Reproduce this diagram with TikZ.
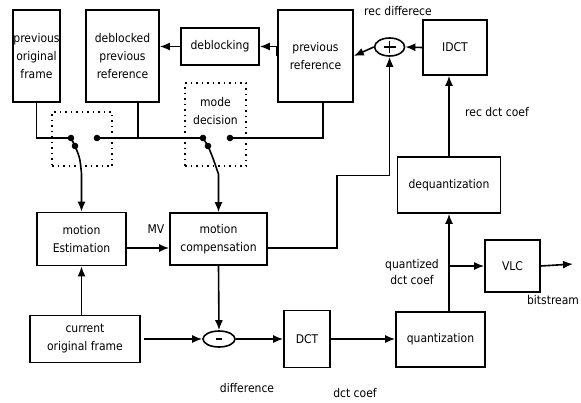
\documentclass[tikz,border=0pt]{standalone}
\usepackage{fontspec}
\setmainfont{DejaVu Sans Condensed}
\usetikzlibrary{arrows.meta,shapes.geometric}
\begin{document}
\begin{tikzpicture}[x=1pt,y=-1pt,
  font=\fontsize{12}{18}\selectfont,
  box/.style={draw,line width=1.6pt,align=center,inner sep=0pt},
  oval/.style={draw,ellipse,line width=1.6pt,inner sep=0pt},
  dbox/.style={draw,dash pattern=on 1.5pt off 4pt,line width=1.5pt,inner sep=0pt},
  arr/.style={line width=1.6pt,solid,-{Latex[length=10pt,width=8pt]}},
  ln/.style={line width=1.6pt,solid},
  lbl/.style={align=center,inner sep=0pt},
  dot/.style={fill=black}]
\useasboundingbox (0,0) rectangle (581,402);
% boxes
\node[box,minimum width=47pt,minimum height=92pt] (pof) at (36.5,56) {previous\\original\\frame};
\node[box,minimum width=73pt,minimum height=92pt] (dpr) at (122.5,56) {deblocked\\previous\\reference};
\node[box,minimum width=78pt,minimum height=37pt] (deb) at (220,46.5) {deblocking};
\node[box,minimum width=75pt,minimum height=92pt] (prf) at (315.5,56) {previous\\reference};
\node[oval,minimum width=30pt,minimum height=18pt] (plus) at (389.6,47) {};
\draw[ln] (plus.center) ++(-6,0) -- ++(12,0);
\draw[ln] (plus.center) ++(0,-6) -- ++(0,12);
\node[box,minimum width=64pt,minimum height=55pt] (idct) at (455,47.5) {IDCT};
\node[box,minimum width=103pt,minimum height=56pt] (deq) at (449,185) {dequantization};
\node[box,minimum width=55pt,minimum height=52pt] (vlc) at (512.5,266) {VLC};
\node[box,minimum width=89pt,minimum height=55pt] (quant) at (440.5,339.5) {quantization};
\node[box,minimum width=46pt,minimum height=57pt] (dct) at (307,339) {DCT};
\node[box,minimum width=89pt,minimum height=53pt] (me) at (81.5,239) {motion\\Estimation};
\node[box,minimum width=97pt,minimum height=52pt] (mc) at (218.5,239) {motion\\compensation};
\node[box,minimum width=110pt,minimum height=47pt] (cof) at (85,339) {current\\original frame};
\node[oval,minimum width=32pt,minimum height=16pt] (minus) at (219,339) {};
\draw[ln] (minus.center) ++(-3,0) -- ++(6,0);
% labels
\node[lbl] (l1) at (398,11) {rec differece};
\node[lbl] (l2) at (497,112) {rec dct coef};
\node[lbl] (l3) at (156,229) {MV};
\node[lbl,font=\fontsize{12}{16}\selectfont] (l4) at (412,272) {quantized\\dct coef};
\node[lbl] (l5) at (553,300) {bitstream};
\node[lbl] (l6) at (247,388) {difference};
\node[lbl] (l7) at (355,393) {dct coef};
% switch terminals
\coordinate (s1a) at (71,138);
\coordinate (s1b) at (97,138);
\coordinate (s1c) at (75,146);
\coordinate (s2a) at (203,138);
\coordinate (s2b) at (230,138);
\coordinate (s2c) at (208,146);
\coordinate (t1) at (337,175.4);
\coordinate (t2) at (389.6,175.4);
\coordinate (bsend) at (573,264);
% top connectors
\draw[arr] (idct.west) -- (plus.east);
\draw[arr] (plus.west) -- (prf.east);
\draw[arr] (prf.west) -- (deb.west -| prf.west) -- (deb.east);
\draw[arr] (deb.west) -- (deb.west -| dpr.east);
% middle connectors
\draw[ln] ([yshift=-9pt]mc.east) -- ([yshift=-9pt]mc.east -| t1) -- (t1) -- (t2);
\draw[arr] (t2) -- (plus.south);
\draw[arr] ([yshift=-9pt]me.east) -- ([yshift=-9pt]mc.west);
\draw[arr] (cof.north -| me.south) -- (me.south);
\draw[arr] (mc.south) -- (minus.north);
\draw[arr] ([xshift=3pt]cof.east) -- (minus.west);
\draw[arr] (minus.east) -- (dct.west);
\draw[arr] (dct.east) -- (dct.east -| quant.west);
\draw[arr] (quant.north -| deq.south) -- (deq.south);
\draw[arr] (deq.north) -- (deq.north |- idct.south);
\draw[arr] (deq.south |- vlc.west) -- (vlc.west);
\draw[arr] (vlc.east) -- (bsend);
% switch wiring
\draw[ln] (pof.south) |- (s1a);
\draw[ln] (s1b) -- (s2a);
\draw[ln] ([xshift=15.5pt]dpr.south) -- ([xshift=15.5pt]dpr.south |- s1b);
\draw[ln] ([xshift=7.5pt]prf.south) |- (s2b);
\draw[ln] (s1a) -- (s1c);
\draw[ln] (s2a) -- (s2c);
\draw[arr] (s1c) .. controls (80,158) .. ([yshift=38pt]me.north) -- (me.north);
\draw[arr] (s2c) .. controls (213,158) .. ([yshift=38pt]mc.north) -- (mc.north);
\foreach \p in {s1a,s1b,s1c,s2a,s2b,s2c} \fill[dot] (\p) circle (3.3pt);
% dotted switch boxes
\node[dbox,minimum width=60pt,minimum height=54pt] (sw1) at (82,139) {};
\node[dbox,minimum width=61pt,minimum height=83pt] (md) at (215.5,124.5) {};
\node[lbl] (mdt) at (215.5,111) {mode\\decision};
\end{tikzpicture}
\end{document}
